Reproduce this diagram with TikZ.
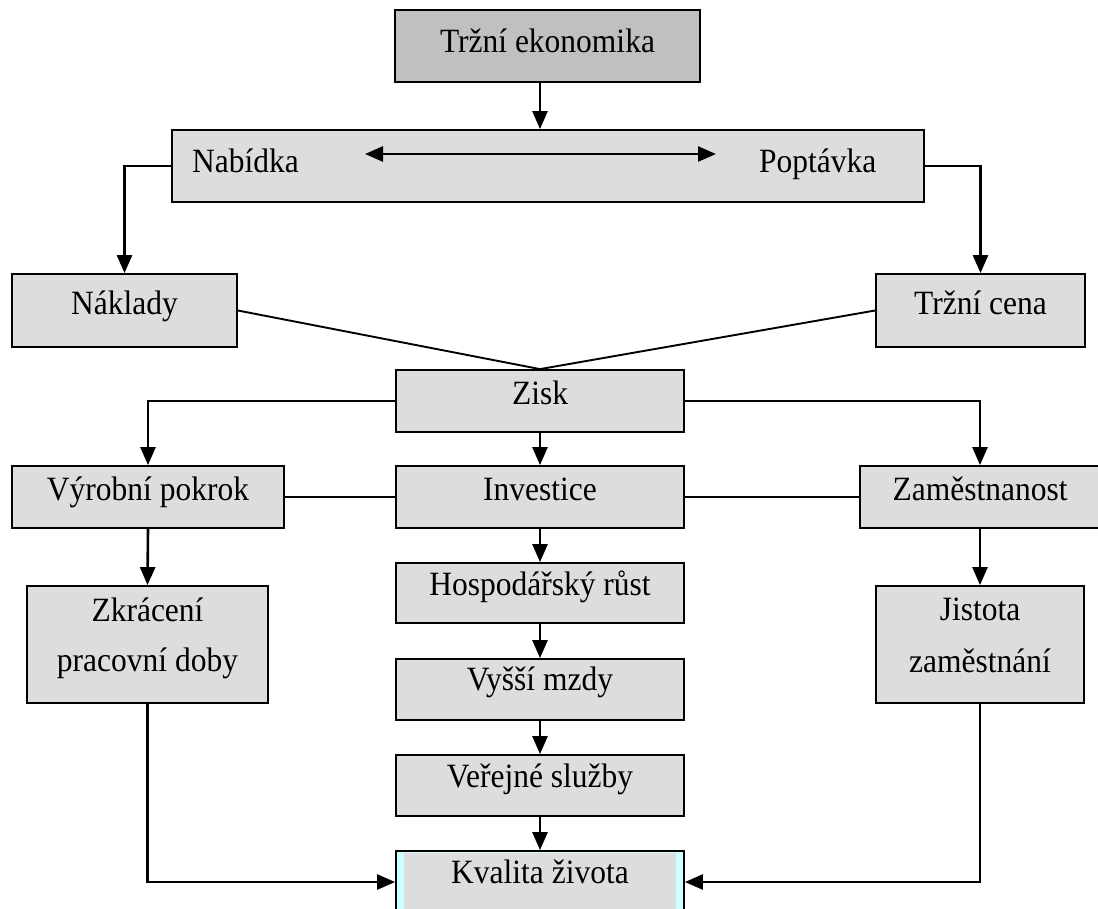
\documentclass[tikz,border=0pt]{standalone}
\usepackage{fontspec}
\usepackage{graphicx}
\setmainfont{Liberation Serif}
\usetikzlibrary{arrows.meta,calc}
\definecolor{boxgray}{RGB}{221,221,221}
\definecolor{topgray}{RGB}{192,192,192}
\definecolor{lcyan}{RGB}{204,255,255}
\newcommand{\talltxt}[1]{\scalebox{1}[1.08]{#1}}
\tikzset{
  box/.style={draw=black,line width=1.8pt,fill=boxgray,rectangle,inner sep=0pt},
  topbox/.style={box,fill=topgray},
  txt/.style={inner sep=0pt,anchor=base,font=\fontsize{31.5}{37}\selectfont},
  arr/.style={line width=2.6pt,-{Triangle[length=18pt,width=15pt]}},
  darr/.style={line width=2.6pt,{Triangle[length=18pt,width=15pt]}-{Triangle[length=18pt,width=15pt]}},
  plain/.style={line width=1.9pt}
}
\begin{document}
\begin{tikzpicture}[x=1pt,y=-1pt]
\useasboundingbox (0,0) rectangle (1098,908);
\clip (0,0) rectangle (1098,908);
% boxes
\node[topbox,minimum width=305pt,minimum height=72pt] (te) at (547.5,46) {};
\node[box,minimum width=752pt,minimum height=72pt] (np) at (548,166) {};
\node[box,minimum width=225pt,minimum height=73pt] (nak) at (124.5,310.5) {};
\node[box,minimum width=209pt,minimum height=73pt] (tc) at (980.5,310.5) {};
\node[box,minimum width=288pt,minimum height=62pt] (zisk) at (540,401) {};
\node[box,minimum width=272pt,minimum height=62pt] (vp) at (148,497) {};
\node[box,minimum width=288pt,minimum height=62pt] (inv) at (540,497) {};
\node[box,minimum width=240pt,minimum height=62pt] (zam) at (980,497) {};
\node[box,minimum width=241pt,minimum height=117pt] (zk) at (147.5,644.5) {};
\node[box,minimum width=208pt,minimum height=117pt] (js) at (980,644.5) {};
\node[box,minimum width=288pt,minimum height=60pt] (hr) at (540,593) {};
\node[box,minimum width=288pt,minimum height=61pt] (vm) at (540,689.5) {};
\node[box,minimum width=288pt,minimum height=61pt] (vs) at (540,785.5) {};
\node[box,fill=lcyan,minimum width=288pt,minimum height=62pt] (kv) at (540,882) {};
\fill[boxgray] (404,853) rectangle (676,920);
% texts
\node[txt] (tte) at (te |- 0,52) {\talltxt{Tržní ekonomika}};
\node[txt,anchor=base west] (tnab) at (192,172) {\talltxt{Nabídka}};
\node[txt,anchor=base west] (tpop) at (759,172) {\talltxt{Poptávka}};
\node[txt] (tnak) at (nak |- 0,314) {\talltxt{Náklady}};
\node[txt] (ttc) at (tc |- 0,314) {\talltxt{Tržní cena}};
\node[txt] (tzisk) at (zisk |- 0,404) {\talltxt{Zisk}};
\node[txt] (tvp) at (vp |- 0,500) {\talltxt{Výrobní pokrok}};
\node[txt] (tinv) at (inv |- 0,500) {\talltxt{Investice}};
\node[txt] (tzam) at (zam |- 0,500) {\talltxt{Zaměstnanost}};
\node[txt] (tzk1) at (zk |- 0,621) {\talltxt{Zkrácení}};
\node[txt] (tzk2) at (zk |- 0,671) {\talltxt{pracovní doby}};
\node[txt] (tjs1) at (js |- 0,620) {\talltxt{Jistota}};
\node[txt] (tjs2) at (js |- 0,672) {\talltxt{zaměstnání}};
\node[txt] (thr) at (hr |- 0,595) {\talltxt{Hospodářský růst}};
\node[txt] (tvm) at (vm |- 0,690) {\talltxt{Vyšší mzdy}};
\node[txt] (tvs) at (vs |- 0,787) {\talltxt{Veřejné služby}};
\node[txt] (tkv) at (kv |- 0,883) {\talltxt{Kvalita života}};
% connectors
\coordinate (dl) at (365,154);
\coordinate (dr) at (716,154);
\draw[darr] (dl) -- (dr);
\draw[arr] (te.south -| zisk.center) -- (np.north -| zisk.center);
\draw[arr] (np.west) -| (nak.north);
\draw[arr] (np.east) -| (tc.north);
\draw[plain] (nak.east) -- (zisk.north);
\draw[plain] (tc.west) -- (zisk.north);
\draw[arr] (zisk.west) -| (vp.north);
\draw[arr] (zisk.east) -| (zam.north);
\draw[arr] (zisk.south) -- (inv.north);
\draw[plain] (vp.east) -- (inv.west);
\draw[plain] (inv.east) -- (zam.west);
\draw[arr] (vp.south) -- (zk.north);
\draw[arr] (zam.south) -- (js.north);
\draw[arr] (inv.south) -- (hr.north);
\draw[arr] (hr.south) -- (vm.north);
\draw[arr] (vm.south) -- (vs.north);
\draw[arr] (vs.south) -- (kv.north);
\draw[arr] (zk.south) |- (kv.west);
\draw[arr] (js.south) |- (kv.east);
\end{tikzpicture}
\end{document}
